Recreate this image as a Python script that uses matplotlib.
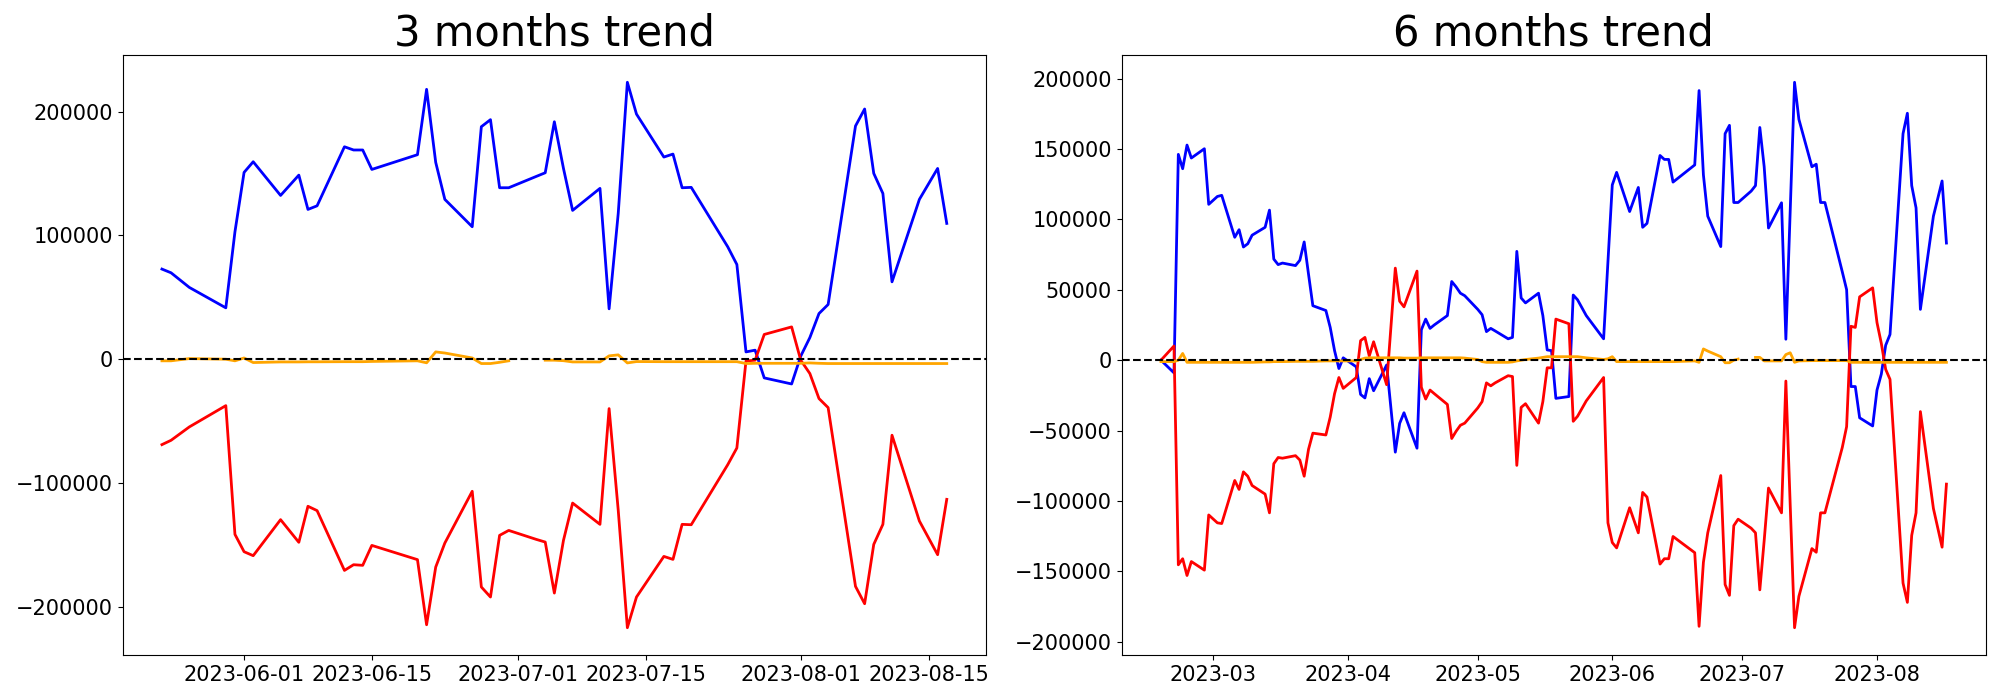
import numpy as np
import pandas as pd
import matplotlib
matplotlib.use("Agg")
import matplotlib.pyplot as plt

# ---------------- data ----------------
dates_3m = ["2023-05-23", "2023-05-24", "2023-05-26", "2023-05-30", "2023-05-31",
            "2023-06-01", "2023-06-02", "2023-06-05", "2023-06-07", "2023-06-08",
            "2023-06-09", "2023-06-12", "2023-06-13", "2023-06-14", "2023-06-15",
            "2023-06-20", "2023-06-21", "2023-06-22", "2023-06-23", "2023-06-26",
            "2023-06-27", "2023-06-28", "2023-06-29", "2023-06-30", "2023-07-03",
            "2023-07-04", "2023-07-05", "2023-07-06", "2023-07-07", "2023-07-10",
            "2023-07-11", "2023-07-12", "2023-07-13", "2023-07-14", "2023-07-17",
            "2023-07-18", "2023-07-19", "2023-07-20", "2023-07-24", "2023-07-25",
            "2023-07-26", "2023-07-27", "2023-07-28", "2023-07-31", "2023-08-01",
            "2023-08-02", "2023-08-03", "2023-08-04", "2023-08-07", "2023-08-08",
            "2023-08-09", "2023-08-10", "2023-08-11", "2023-08-14", "2023-08-16",
            "2023-08-17"]

blue_3m = [72800, 69800, 58000, 41500, 102900, 150900, 159500, 132300, 148700, 121000,
           123900, 171600, 169000, 169000, 153300, 165200, 218000, 159000, 129100, 107000,
           187800, 193500, 138500, 138500, 147600, 150600, 191800, 154100, 120200, 138000,
           40700, 117800, 223700, 198000, 163300, 165700, 138500, 138800, 90800, 76500,
           5900, 7300, -15100, -20000, 2500, 17500, 36900, 44200, 188400, 202100,
           150100, 133900, 62500, 129100, 154100, 109700]

red_3m = [-69000, -65500, -54700, -37500, -141500, -155500, -158700, -129600, -147900, -118800,
          -122300, -170600, -166000, -166500, -150400, -161900, -214500, -167900, -148500, -106700,
          -184000, -192100, -142300, -138300, -145500, -147700, -188900, -146300, -116200, -133400,
          -39900, -122000, -216900, -192100, -159300, -161700, -133400, -133700, -85200, -71700,
          -1400, -800, 20000, 26100, -800, -11600, -31800, -39100, -183500, -197500,
          -149600, -133400, -61400, -130700, -157900, -113200]

orange_3m = [-1300, -1300, 500, 0, -1300, 1000, -2700, -2200, -2200, -2100,
             -2100, -2000, -2000, -2000, -1800, -1300, -2900, 5900, 5000, 1000,
             -3500, -3500, -2500, -1300, np.nan, -800, -800, -1200, -2200, -2200,
             2700, 3500, -3000, -1900, -2000, -2000, -2000, -2000, -2000, -2000,
             -3500, -3300, -3300, -3300, -3300, -3000, -3300, -3500, -3500, -3500,
             -3500, -3500, -3500, -3500, -3500, -3500]

dates_6m_head = ["2023-02-17", "2023-02-20", "2023-02-21", "2023-02-22", "2023-02-23",
                 "2023-02-24", "2023-02-27", "2023-02-28", "2023-03-02", "2023-03-03",
                 "2023-03-06", "2023-03-07", "2023-03-08", "2023-03-09", "2023-03-10",
                 "2023-03-13", "2023-03-14", "2023-03-15", "2023-03-16", "2023-03-17",
                 "2023-03-20", "2023-03-21", "2023-03-22", "2023-03-23", "2023-03-24",
                 "2023-03-27", "2023-03-28", "2023-03-29", "2023-03-30", "2023-03-31",
                 "2023-04-03", "2023-04-04", "2023-04-05", "2023-04-06", "2023-04-07",
                 "2023-04-10", "2023-04-12", "2023-04-13", "2023-04-14", "2023-04-17",
                 "2023-04-18", "2023-04-19", "2023-04-20", "2023-04-21", "2023-04-24",
                 "2023-04-25", "2023-04-26", "2023-04-27", "2023-04-28", "2023-05-01",
                 "2023-05-02", "2023-05-03", "2023-05-04", "2023-05-05", "2023-05-08",
                 "2023-05-09", "2023-05-10", "2023-05-11", "2023-05-12", "2023-05-15",
                 "2023-05-16", "2023-05-17", "2023-05-18", "2023-05-19", "2023-05-22"]
dates_6m = dates_6m_head + dates_3m

blue_6m = [0, -9000, 146200, 136000, 152800, 143600, 150200, 110700, 116300, 117100,
           87300, 92700, 80400, 82700, 88800, 94400, 106600, 71800, 67900, 69000,
           67200, 71000, 84000, 61100, 38700, 35300, 23300, 6800, -5900, 1700,
           -4700, -24300, -26800, -13100, -21700, -3400, -65300, -44900, -37300, -62500,
           21600, 29200, 22600, 25100, 31700, 55900, 52100, 47600, 45800, 36100,
           32300, 20300, 22600, 20800, 15200, 16200, 77300, 44200, 40700, 47600,
           31700, 7300, 6800, -27100, -25800,
           46300, 42900, 31700, 15200, 70000, 124500, 133400, 105600, 122700, 94400,
           97200, 145400, 142600, 142600, 126500, 138700, 191500, 131600, 102300, 80700,
           160900, 166800, 112000, 112000, 120100, 124000, 165300, 137500, 93900, 111800,
           14900, 106100, 197400, 171100, 137400, 139200, 112000, 112000, 62800, 50100,
           -18700, -18700, -40900, -46700, -21200, -9800, 10600, 18300, 160900, 175400,
           124000, 108200, 36100, 102300, 127300, 83200]

red_6m = [0, 10100, -145300, -141000, -152900, -143000, -149100, -109900, -115500, -116000,
          -85400, -91800, -79300, -82400, -89000, -95100, -108400, -73500, -69100, -69600,
          -67800, -70900, -82400, -63300, -51800, -53100, -40400, -23800, -12300, -20000,
          -12300, 13900, 16200, 3000, 13100, -17400, 65400, 41900, 37900, 63300,
          -19200, -27600, -21200, -23800, -31400, -55600, -50500, -46200, -44700, -33900,
          -29400, -16100, -18200, -16100, -11000, -11600, -74700, -33500, -30900, -44700,
          -29400, -5400, -5400, 29200, 25900,
          -43400, -39800, -28900, -12300, -115500, -129500, -133300, -104800, -122600, -93900,
          -97200, -144800, -141000, -141000, -125200, -136700, -189000, -143500, -122600, -81900,
          -159300, -167000, -117500, -112900, -119300, -122600, -163100, -128200, -90800, -108400,
          -14800, -102800, -190000, -167700, -133800, -136400, -108400, -108400, -62000, -47200,
          24100, 23300, 45000, 51400, 26700, 11900, -6500, -13600, -158300, -172000,
          -124400, -108400, -36500, -105300, -132800, -88000]

orange_6m = [-1000, -1000, 0, 4800, -1500, -1500, -1500, -1500, -1500, -1500,
             -1500, -1500, -1500, -1500, -1500, -1200, -1200, -1000, -1000, -1000,
             -800, -800, -800, -800, -800, -500, -500, -500, -500, -500,
             -500, 500, 1500, 1700, 1700, 1700, 1700, 1700, 1500, 1500,
             1700, 1700, 1700, 1700, 1700, 1700, 1700, 1700, 1500, 500,
             -1000, -1500, -1500, -1500, -1500, -1200, -500, 0, 500, 1500,
             2000, 2500, 2500, 2500, 2500,
             2500, 2500, 1700, 500, 1000, 2500, -1000, -1000, -1000, -1000,
             -1000, -1000, -1000, -1000, -1000, -500, -1500, 8000, 6500, 2500,
             -1800, -1800, 0, 800, np.nan, 2000, 2000, -500, -500, -500,
             4000, 5300, -1500, -500, -300, -300, -300, -300, -300, -300,
             -1500, -1500, -1500, -1500, -1500, -1500, -1500, -1500, -1500, -1500,
             -1500, -1500, -1500, -1500, -1500, -1500]

titles = ["3 months trend", "6 months trend"]

# ---------------- plot ----------------
fig = plt.figure(figsize=(20, 7), dpi=100)
ax1 = fig.add_axes([122.7 / 2000, 45 / 700, 863.3 / 2000, 600 / 700])
ax2 = fig.add_axes([1121.7 / 2000, 45 / 700, 864 / 2000, 600 / 700])

panels = [
    (ax1, dates_3m, blue_3m, red_3m, orange_3m),
    (ax2, dates_6m, blue_6m, red_6m, orange_6m),
]

for (ax, d, b, r, o), title in zip(panels, titles):
    x = pd.to_datetime(d)
    ax.plot(x, b, color="blue", linewidth=2)
    ax.plot(x, r, color="red", linewidth=2)
    ax.plot(x, o, color="orange", linewidth=2)
    ax.axhline(0, color="black", linestyle="--", linewidth=1.5)
    ax.set_title(title, fontsize=30)
    ax.tick_params(axis="both", labelsize=15)

fig.savefig("out.png", dpi=100)
